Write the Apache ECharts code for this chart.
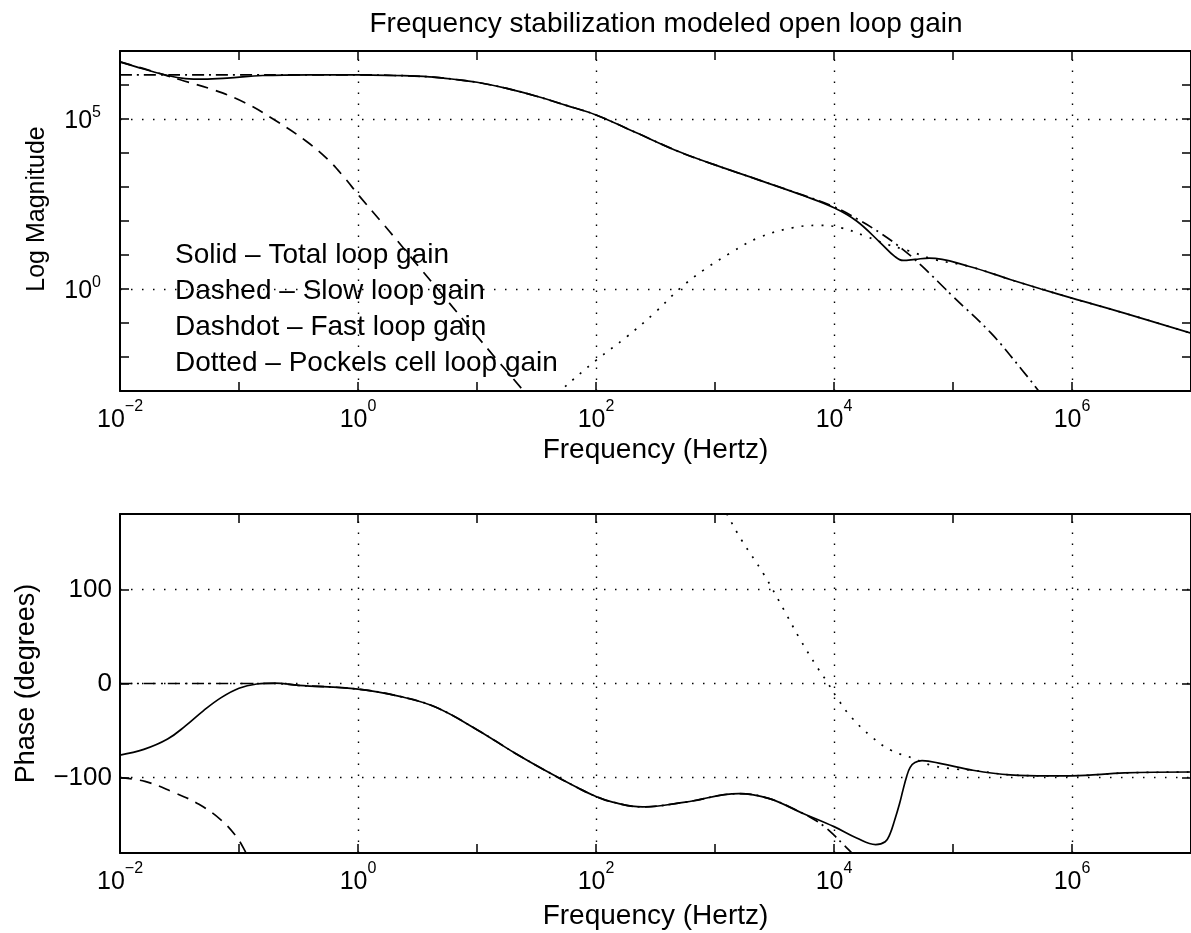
<html>
<head>
<meta charset="utf-8">
<script type="text/javascript" src="https://cdn.jsdelivr.net/npm/echarts@6/dist/echarts.min.js"></script>
</head>
<body style="margin: 0; padding: 0;">
<div id="myChart" style="width: 1191px; height: 933px; margin: 0; padding: 0;"></div>
<script type="text/javascript">
var fontName = 'Liberation Sans';

// frequencies are log10(Hz), magnitudes are log10(gain), phase in degrees
var solidMagF = [-2, -1.8, -1.6, -1.45, -1.3, -1.1, -0.8, -0.4, 0, 0.3, 0.6, 0.85, 1.0, 1.25, 1.5, 1.75, 2.0, 2.33, 2.71, 3.0, 3.39, 3.74, 4.0, 4.19, 4.39, 4.51, 4.58, 4.68, 4.8, 5.13, 5.48, 5.74, 6.0, 6.44, 7.0];
var solidMag = [6.68, 6.47, 6.28, 6.19, 6.17, 6.2, 6.28, 6.3, 6.3, 6.28, 6.24, 6.15, 6.08, 5.9, 5.67, 5.4, 5.12, 4.61, 4.02, 3.65, 3.18, 2.75, 2.39, 2.0, 1.36, 0.96, 0.84, 0.87, 0.91, 0.67, 0.28, 0.0, -0.27, -0.71, -1.3];

var slowMagF = [-2, -1.8, -1.6, -1.5, -1.2, -0.95, -0.7, -0.44, -0.25, -0.12, 0.01, 0.2, 0.33, 0.52, 0.74, 0.97, 1.16, 1.38, 1.45];
var slowMag = [6.68, 6.48, 6.27, 6.16, 5.84, 5.48, 4.97, 4.36, 3.8, 3.3, 2.74, 1.96, 1.42, 0.62, -0.3, -1.26, -2.05, -2.95, -3.25];

var fastMagF = [-2, -1.5, -1.0, -0.5, 0, 0.3, 0.6, 0.85, 1.0, 1.25, 1.5, 1.75, 2.0, 2.33, 2.71, 3.0, 3.39, 3.74, 4.0, 4.2, 4.4, 4.58, 4.74, 5.0, 5.32, 5.58, 5.72, 5.78];
var fastMag = [6.3, 6.3, 6.3, 6.3, 6.3, 6.28, 6.24, 6.15, 6.08, 5.9, 5.67, 5.4, 5.12, 4.61, 4.02, 3.65, 3.18, 2.76, 2.42, 2.05, 1.62, 1.16, 0.67, -0.22, -1.3, -2.38, -3.0, -3.3];

var pockMagF = [1.62, 1.7, 2.0, 2.26, 2.49, 2.71, 2.91, 3.13, 3.36, 3.65, 3.87, 4.06, 4.26, 4.45, 4.64, 4.84, 5.13, 5.48, 5.74, 6.0, 6.44, 7.0];
var pockMag = [-3.3, -3.0, -2.1, -1.4, -0.71, 0.03, 0.57, 1.06, 1.5, 1.8, 1.87, 1.8, 1.56, 1.31, 1.11, 0.87, 0.67, 0.28, 0.0, -0.27, -0.71, -1.3];

var solidPhF = [-2, -1.8, -1.6, -1.45, -1.3, -1.15, -1.0, -0.85, -0.7, -0.5, 0, 0.36, 0.65, 1.0, 1.32, 1.64, 1.85, 2.0, 2.14, 2.39, 2.75, 3.2, 3.45, 3.74, 4.0, 4.19, 4.35, 4.43, 4.47, 4.51, 4.55, 4.58, 4.61, 4.64, 4.68, 4.74, 4.9, 5.16, 5.48, 5.8, 6.0, 6.44, 7.0];
var solidPh = [-76, -70, -59, -45, -29, -15, -5, -0.5, 0.5, -2, -6, -14, -25, -49, -74, -97, -111, -120, -126, -131, -126, -117, -122, -138, -152, -164, -171, -168, -160, -145, -128, -113, -99, -89, -84, -82, -85, -92, -97, -98, -98, -95, -94];

var slowPhF = [-2, -1.79, -1.56, -1.34, -1.15, -1.02, -0.94, -0.9];
var slowPh = [-100, -104, -115, -128, -145, -163, -180, -190];

var fastPhF = [-2, -1.0, -0.7, -0.5, 0, 0.36, 0.65, 1.0, 1.32, 1.64, 1.85, 2.0, 2.14, 2.39, 2.75, 3.2, 3.45, 3.74, 3.84, 3.92, 4.0, 4.07, 4.15, 4.18];
var fastPh = [0, 0, 0, -2, -6, -14, -25, -49, -74, -97, -111, -120, -126, -131, -126, -117, -122, -138, -145, -152, -161, -170, -180, -185];

var pockPhF = [3.06, 3.10, 3.22, 3.41, 3.58, 3.71, 3.85, 3.94, 4.03, 4.14, 4.32, 4.48, 4.68, 4.82, 5.03, 5.16, 5.48, 5.8, 6.0, 6.44, 7.0];
var pockPh = [190, 180, 153, 116, 78, 48, 19, 2, -16, -35, -57, -71, -80, -87, -91, -92, -97, -98, -98, -95, -94];

// grid lines and labelled ticks
var freqGrid = [0, 2, 4, 6];
var magGrid = [0, 5];
var phaseGrid = [-100, 0, 100];

var notes = ['Solid \u2013 Total loop gain', 'Dashed \u2013 Slow loop gain', 'Dashdot \u2013 Fast loop gain', 'Dotted \u2013 Pockels cell loop gain'];

function pairs(xs, ys) {
	return xs.map(function (x, i) { return [x, ys[i]]; });
}

function expText(n) {
	return n < 0 ? '\u2212' + (-n) : '' + n;
}

var richX = {
	b: {fontSize: 25, fontFamily: fontName, color: '#000', lineHeight: 34, verticalAlign: 'bottom'},
	s: {fontSize: 16, fontFamily: fontName, color: '#000', lineHeight: 16, verticalAlign: 'top'}
};
var richY = {
	b: {fontSize: 25, fontFamily: fontName, color: '#000', lineHeight: 29, verticalAlign: 'bottom'},
	s: {fontSize: 16, fontFamily: fontName, color: '#000', lineHeight: 16, verticalAlign: 'top'}
};

function fmtFreq(v) {
	var n = Math.round(v);
	if (freqGrid.indexOf(n) < 0 && n !== -2) return '';
	return '{b|10}{s|' + expText(n) + '}';
}
function fmtMag(v) {
	var n = Math.round(v);
	if (magGrid.indexOf(n) < 0) return '';
	return '{b|10}{s|' + expText(n) + '}';
}
function fmtPhase(v) {
	if (phaseGrid.indexOf(v) < 0) return '';
	return expText(v);
}

var black = {color: '#000', width: 2};
var tickStyle = {show: true, inside: true, length: 9, lineStyle: {color: '#000', width: 1.5}};
var nameStyle = {fontSize: 28, color: '#000', fontFamily: fontName};

function xAxes(g, gap) {
	return [
		{type: 'value', gridIndex: g, position: 'bottom', min: -2, max: 7, interval: 1,
			name: 'Frequency (Hertz)', nameLocation: 'middle', nameGap: gap, nameTextStyle: nameStyle,
			axisLine: {show: true, onZero: false, lineStyle: black}, axisTick: tickStyle,
			axisLabel: {margin: 8, formatter: fmtFreq, rich: richX, showMaxLabel: false},
			splitLine: {show: false}},
		{type: 'value', gridIndex: g, position: 'top', min: -2, max: 7, interval: 1,
			axisLine: {show: true, onZero: false, lineStyle: black}, axisTick: tickStyle,
			axisLabel: {show: false}, splitLine: {show: false}}
	];
}

function gridMarks(xs, ys) {
	var d = [];
	xs.forEach(function (v) { d.push({xAxis: v}); });
	ys.forEach(function (v) { d.push({yAxis: v}); });
	return {
		silent: true, symbol: ['none', 'none'], label: {show: false}, animation: false,
		lineStyle: {color: '#000', width: 1.4, type: [1.5, 9.5], opacity: 1},
		emphasis: {disabled: true}, data: d
	};
}

function curve(xi, yi, xs, ys, dash, marks) {
	var s = {
		type: 'line', xAxisIndex: xi, yAxisIndex: yi, data: pairs(xs, ys),
		symbol: 'none', showSymbol: false, smooth: 0.4, silent: true,
		lineStyle: {color: '#000', width: 1.7, type: dash}
	};
	if (marks) s.markLine = marks;
	return s;
}

var option = {
	animation: false,
	backgroundColor: '#fff',
	textStyle: {fontFamily: fontName},
	title: {
		text: 'Frequency stabilization modeled open loop gain',
		left: 661, top: 5, textAlign: 'center',
		textStyle: {fontSize: 28, fontWeight: 'normal', color: '#000', fontFamily: fontName}
	},
	grid: [
		{left: 120, top: 51, width: 1071, height: 340},
		{left: 120, top: 514, width: 1071, height: 339}
	],
	xAxis: xAxes(0, 45).concat(xAxes(1, 49)),
	yAxis: [
		{type: 'value', gridIndex: 0, position: 'left', min: -3, max: 7, interval: 1,
			name: 'Log Magnitude', nameLocation: 'middle', nameGap: 70,
			nameTextStyle: {fontSize: 25, color: '#000', fontFamily: fontName, padding: [0, 0, 0, 24]},
			axisLine: {show: true, onZero: false, lineStyle: black}, axisTick: tickStyle,
			axisLabel: {margin: 19, formatter: fmtMag, rich: richY}, splitLine: {show: false}},
		{type: 'value', gridIndex: 0, position: 'right', min: -3, max: 7, interval: 1,
			axisLine: {show: true, onZero: false, lineStyle: black}, axisTick: tickStyle,
			axisLabel: {show: false}, splitLine: {show: false}},
		{type: 'value', gridIndex: 1, position: 'left', min: -180, max: 180, splitNumber: 4,
			name: 'Phase (degrees)', nameLocation: 'middle', nameGap: 80,
			nameTextStyle: {fontSize: 27, color: '#000', fontFamily: fontName},
			axisLine: {show: true, onZero: false, lineStyle: black}, axisTick: tickStyle,
			axisLabel: {margin: 8, formatter: fmtPhase, fontSize: 26, color: '#000', fontFamily: fontName},
			splitLine: {show: false}},
		{type: 'value', gridIndex: 1, position: 'right', min: -180, max: 180, splitNumber: 4,
			axisLine: {show: true, onZero: false, lineStyle: black}, axisTick: tickStyle,
			axisLabel: {show: false}, splitLine: {show: false}}
	],
	graphic: notes.map(function (t, i) {
		return {
			type: 'text', x: 175, y: 255 + i * 36, z: 100,
			style: {text: t, fontSize: 28, fontFamily: fontName, fill: '#000', verticalAlign: 'middle'}
		};
	}),
	series: [
		curve(0, 0, solidMagF, solidMag, 'solid', gridMarks(freqGrid, magGrid)),
		curve(0, 0, slowMagF, slowMag, [12, 8]),
		curve(0, 0, fastMagF, fastMag, [12, 5, 2, 5]),
		curve(0, 0, pockMagF, pockMag, [2, 8]),
		curve(2, 2, solidPhF, solidPh, 'solid', gridMarks(freqGrid, phaseGrid)),
		curve(2, 2, slowPhF, slowPh, [12, 8]),
		curve(2, 2, fastPhF, fastPh, [12, 5, 2, 5]),
		curve(2, 2, pockPhF, pockPh, [2, 8])
	]
};
echarts.init(document.getElementById('myChart')).setOption(option);
</script>
</body>
</html>
